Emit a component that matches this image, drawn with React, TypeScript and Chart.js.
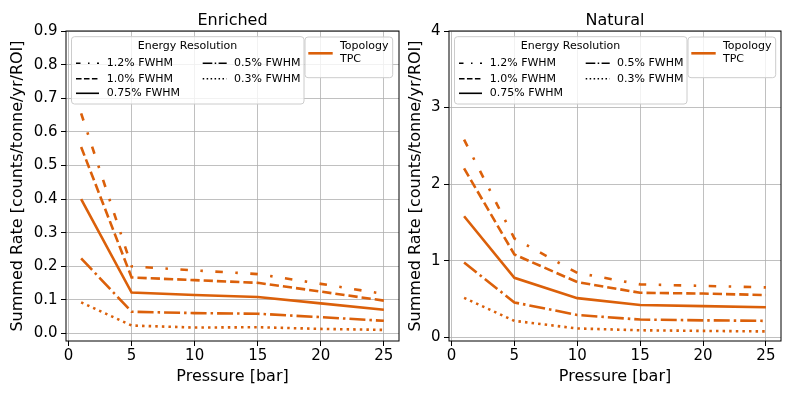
import React, { useEffect, useRef } from 'react';
import { Chart, registerables } from 'chart.js';

Chart.register(...registerables);
Chart.defaults.font.family = '"DejaVu Sans", sans-serif';

// ---- data ----
const pressure = [1, 5, 10, 15, 20, 25];
const resolutionLabels = ['1.2% FWHM', '1.0% FWHM', '0.75% FWHM', '0.5% FWHM', '0.3% FWHM'];

const enriched12 = [0.655, 0.2, 0.188, 0.177, 0.148, 0.118];
const enriched10 = [0.555, 0.167, 0.159, 0.151, 0.125, 0.098];
const enriched075 = [0.4, 0.122, 0.115, 0.109, 0.09, 0.071];
const enriched05 = [0.224, 0.065, 0.061, 0.059, 0.049, 0.038];
const enriched03 = [0.093, 0.024, 0.018, 0.019, 0.014, 0.011];

const natural12 = [2.58, 1.29, 0.84, 0.69, 0.67, 0.65];
const natural10 = [2.205, 1.08, 0.72, 0.58, 0.57, 0.55];
const natural075 = [1.58, 0.775, 0.51, 0.42, 0.405, 0.39];
const natural05 = [0.976, 0.454, 0.29, 0.23, 0.22, 0.213];
const natural03 = [0.514, 0.213, 0.114, 0.09, 0.082, 0.075];

const xTicks = [0, 5, 10, 15, 20, 25];
const enrichedYTicks = [0, 0.1, 0.2, 0.3, 0.4, 0.5, 0.6, 0.7, 0.8, 0.9];
const naturalYTicks = [0, 1, 2, 3, 4];

// ---- styles ----
const ORANGE = '#db600a';
const LINE_W = 2.6;
const lineDashes: number[][] = [
  [7.5, 12.5, 2.5, 12.5],
  [9.25, 4],
  [],
  [16, 4, 2.5, 4],
  [2.5, 4.1],
];
const LEG_W = 1.6;
const legendDashes = lineDashes.map((d) => d.map((v) => v * 0.6));

const FONT = '"DejaVu Sans", sans-serif';

function roundBox(ctx: CanvasRenderingContext2D, x: number, y: number, w: number, h: number) {
  ctx.beginPath();
  const r = 3;
  ctx.moveTo(x + r, y);
  ctx.lineTo(x + w - r, y);
  ctx.quadraticCurveTo(x + w, y, x + w, y + r);
  ctx.lineTo(x + w, y + h - r);
  ctx.quadraticCurveTo(x + w, y + h, x + w - r, y + h);
  ctx.lineTo(x + r, y + h);
  ctx.quadraticCurveTo(x, y + h, x, y + h - r);
  ctx.lineTo(x, y + r);
  ctx.quadraticCurveTo(x, y, x + r, y);
  ctx.closePath();
  ctx.fillStyle = 'rgba(255,255,255,0.8)';
  ctx.fill();
  ctx.strokeStyle = '#cccccc';
  ctx.lineWidth = 1;
  ctx.setLineDash([]);
  ctx.stroke();
}

function handle(ctx: CanvasRenderingContext2D, x1: number, x2: number, y: number, color: string, w: number, dash: number[]) {
  ctx.beginPath();
  ctx.strokeStyle = color;
  ctx.lineWidth = w;
  ctx.lineCap = 'butt';
  ctx.setLineDash(dash);
  ctx.moveTo(x1, y);
  ctx.lineTo(x2, y);
  ctx.stroke();
  ctx.setLineDash([]);
}

const decorPlugin = {
  id: 'decor',
  afterDraw(chart: any, _args: any, opts: any) {
    const { ctx, chartArea: a } = chart;
    ctx.save();
    // frame
    ctx.strokeStyle = '#000';
    ctx.lineWidth = 1;
    ctx.setLineDash([]);
    ctx.strokeRect(a.left, a.top, a.right - a.left, a.bottom - a.top);
    // title
    ctx.fillStyle = '#000';
    ctx.font = `16px ${FONT}`;
    ctx.textAlign = 'center';
    ctx.textBaseline = 'alphabetic';
    ctx.fillText(opts.title, (a.left + a.right) / 2, 25);

    const L = a.left;
    const T = a.top;
    // Energy resolution legend
    roundBox(ctx, L + 5.5, T + 5.7, 232.5, 67.3);
    ctx.fillStyle = '#000';
    ctx.font = `11px ${FONT}`;
    ctx.textAlign = 'center';
    ctx.textBaseline = 'middle';
    ctx.fillText('Energy Resolution', L + 121.5, T + 14.7);
    const rowsY = [32.3, 47.7, 62.3];
    const cols = [
      { hx1: 10, hx2: 33, tx: 40.7 },
      { hx1: 136.7, hx2: 160.7, tx: 168 },
    ];
    resolutionLabels.forEach((lab, i) => {
      const c = cols[i < 3 ? 0 : 1];
      const y = T + rowsY[i < 3 ? i : i - 3];
      handle(ctx, L + c.hx1, L + c.hx2, y, '#000', LEG_W, legendDashes[i]);
      ctx.fillStyle = '#000';
      ctx.textAlign = 'left';
      ctx.textBaseline = 'middle';
      ctx.fillText(lab, L + c.tx, y);
    });

    // Topology legend
    roundBox(ctx, L + 239, T + 6, 87.7, 40.7);
    handle(ctx, L + 242.3, L + 266.7, T + 22.3, ORANGE, LINE_W, []);
    ctx.fillStyle = '#000';
    ctx.textAlign = 'left';
    ctx.textBaseline = 'middle';
    ctx.fillText('Topology', L + 274, T + 14.7);
    ctx.fillText('TPC', L + 274, T + 28.3);
    ctx.restore();
  },
};

type PanelProps = {
  title: string;
  series: number[][];
  yMin: number;
  yMax: number;
  yTicks: number[];
  decimals: number;
  width: number;
  yAxisWidth: number;
  padRight: number;
  yTitlePad: number;
  yTickPad: number;
};

function Panel(p: PanelProps) {
  const ref = useRef<HTMLCanvasElement | null>(null);
  useEffect(() => {
    if (!ref.current) return;
    const chart = new Chart(ref.current, {
      type: 'line',
      data: {
        datasets: p.series.map((vals, i) => ({
          label: resolutionLabels[i],
          data: pressure.map((x, j) => ({ x, y: vals[j] })),
          borderColor: ORANGE,
          backgroundColor: ORANGE,
          borderWidth: LINE_W,
          borderDash: lineDashes[i],
          borderCapStyle: 'butt',
          pointRadius: 0,
          tension: 0,
          fill: false,
        })),
      },
      options: {
        responsive: false,
        animation: false,
        events: [],
        layout: { padding: { top: 31, right: p.padRight, bottom: 0, left: 0 } },
        plugins: {
          legend: { display: false },
          tooltip: { enabled: false },
          title: { display: false },
          decor: { title: p.title },
        } as any,
        scales: {
          x: {
            type: 'linear',
            min: -0.2,
            max: 26.2,
            afterBuildTicks: (s: any) => {
              s.ticks = xTicks.map((v) => ({ value: v }));
            },
            afterFit: (s: any) => {
              s.height = 56;
            },
            ticks: {
              font: { size: 15, family: FONT },
              color: '#000',
              padding: 1,
              maxRotation: 0,
              autoSkip: false,
              callback: (v: any) => String(v),
            },
            grid: {
              color: '#b0b0b0',
              lineWidth: 0.8,
              tickColor: '#000',
              tickLength: 5,
              tickWidth: 1,
              drawTicks: true,
            },
            border: { display: false },
            title: {
              display: true,
              text: 'Pressure [bar]',
              font: { size: 16, family: FONT },
              color: '#000',
              padding: { top: 0, bottom: 11 },
            },
          },
          y: {
            type: 'linear',
            min: p.yMin,
            max: p.yMax,
            afterBuildTicks: (s: any) => {
              s.ticks = p.yTicks.map((v) => ({ value: v }));
            },
            afterFit: (s: any) => {
              s.width = p.yAxisWidth;
            },
            ticks: {
              font: { size: 15, family: FONT },
              color: '#000',
              padding: p.yTickPad,
              autoSkip: false,
              callback: (v: any) => Number(v).toFixed(p.decimals),
            },
            grid: {
              color: '#b0b0b0',
              lineWidth: 0.8,
              tickColor: '#000',
              tickLength: 5,
              tickWidth: 1,
              drawTicks: true,
            },
            border: { display: false },
            title: {
              display: true,
              text: 'Summed Rate [counts/tonne/yr/ROI]',
              font: { size: 16, family: FONT },
              color: '#000',
              padding: { top: p.yTitlePad, bottom: 0 },
            },
          },
        },
      },
      plugins: [decorPlugin],
    } as any);
    return () => chart.destroy();
  }, []);
  return <canvas ref={ref} width={p.width} height={397} style={{ width: p.width, height: 397, display: 'block' }} />;
}

export default function App() {
  return (
    <div style={{ position: 'fixed', left: 0, top: 0, width: 793, height: 397, background: '#fff' }}>
      <div style={{ position: 'absolute', left: 0, top: 0 }}>
        <Panel
          title="Enriched"
          series={[enriched12, enriched10, enriched075, enriched05, enriched03]}
          yMin={-0.022}
          yMax={0.9}
          yTicks={enrichedYTicks}
          decimals={1}
          width={420}
          yAxisWidth={66}
          padRight={21}
          yTitlePad={8}
          yTickPad={3.5}
        />
      </div>
      <div style={{ position: 'absolute', left: 400, top: 0 }}>
        <Panel
          title="Natural"
          series={[natural12, natural10, natural075, natural05, natural03]}
          yMin={-0.05}
          yMax={4}
          yTicks={naturalYTicks}
          decimals={0}
          width={393}
          yAxisWidth={49}
          padRight={12}
          yTitlePad={6.5}
          yTickPad={3.5}
        />
      </div>
    </div>
  );
}
